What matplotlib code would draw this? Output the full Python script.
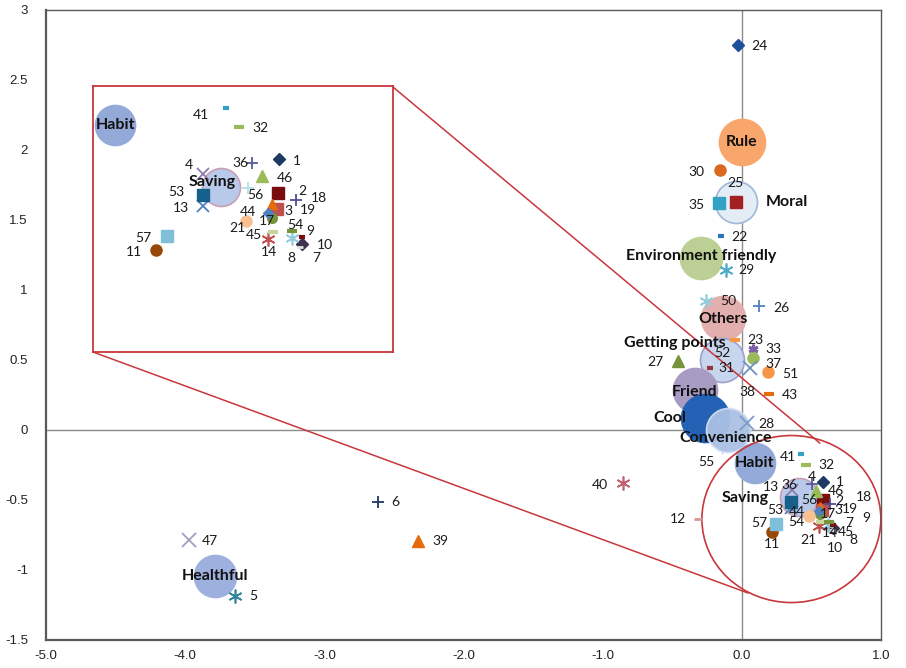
import matplotlib
matplotlib.use("Agg")
import matplotlib.pyplot as plt
from matplotlib.patches import Ellipse

# ---------------- data ----------------
point_ids = [1, 2, 3, 4, 5, 6, 7, 8, 9, 10, 11, 12, 13, 14, 17, 18, 19, 21, 22, 23,
             24, 25, 26, 27, 28, 29, 30, 31, 32, 33, 35, 36, 37, 38, 39, 40, 41, 43,
             44, 45, 46, 47, 50, 51, 52, 53, 54, 55, 56, 57]
point_x = [0.583, 0.582, 0.577, 0.357, -3.642, -2.617, 0.654, 0.622, 0.654, 0.647,
           0.216, -0.314, 0.356, 0.552, 0.562, 0.634, 0.562, 0.484, -0.153, -0.050,
           -0.031, -0.043, 0.124, -0.458, 0.038, -0.117, -0.158, -0.230, 0.464, 0.081,
           -0.165, 0.504, 0.077, 0.057, -2.325, -0.853, 0.425, 0.196,
           0.552, 0.567, 0.534, -3.971, -0.254, 0.189, -0.216, 0.356, 0.624, -0.144, 0.492, 0.248]
point_y = [-0.369, -0.503, -0.568, -0.429, -1.186, -0.516, -0.702, -0.681, -0.675, -0.713,
           -0.728, -0.638, -0.555, -0.685, -0.600, -0.532, -0.548, -0.614, 1.386, 0.643,
           2.750, 1.631, 0.886, 0.495, 0.052, 1.143, 1.857, 0.445, -0.247, 0.579,
           1.619, -0.388, 0.516, 0.441, -0.793, -0.381, -0.171, 0.255,
           -0.581, -0.657, -0.438, -0.786, 0.924, 0.412, 0.529, -0.513, -0.654, -0.143, -0.483, -0.672]

categories = ['Rule', 'Moral', 'Environment friendly', 'Others', 'Getting points', 'Friend',
              'Cool', 'Convenience', 'Habit', 'Saving', 'Healthful']
cat_x = [-0.002, -0.043, -0.290, -0.134, -0.146, -0.338, -0.266, -0.098, 0.093, 0.410, -3.786]
cat_y = [2.059, 1.631, 1.226, 0.798, 0.500, 0.286, 0.084, 0.000, -0.238, -0.482, -1.043]
cat_size = [23, 21, 21, 22, 22, 22, 24, 22, 20, 19, 21]

x_ticks = [-5.0, -4.0, -3.0, -2.0, -1.0, 0.0, 1.0]
y_ticks = [-1.5, -1, -0.5, 0, 0.5, 1, 1.5, 2, 2.5, 3]
y_tick_labels = ['-1.5', '-1', '-0.5', '0', '0.5', '1', '1.5', '2', '2.5', '3']

# ---------------- styles ----------------
AST = (6, 2, 0)
# id: (marker, color, markersize, markeredgewidth, zorder)
pstyle = {
    1: ('D', '#1F3864', 6.5, 1, 4), 2: ('s', '#7A0E0E', 8, 1, 4), 3: ('s', '#C0504D', 8, 1, 4),
    4: ('x', '#8C7BAF', 8, 1.3, 4), 5: (AST, '#31859C', 10, 1.2, 4), 6: ('+', '#1F3864', 9, 1.3, 4),
    7: ('D', '#403152', 6.5, 1, 4), 8: (AST, '#93CDDD', 10, 1.2, 4), 9: ('_', '#7A0E0E', 5, 3, 4),
    10: ('_', '#E4E4E4', 4, 2, 4), 11: ('o', '#984807', 8, 1, 4), 12: ('_', '#D99694', 6, 2, 4),
    13: ('x', '#4F81BD', 8, 1.3, 4), 14: (AST, '#C0504D', 10, 1.2, 4), 17: ('o', '#77933C', 7, 1, 4),
    18: ('+', '#4F4F8F', 9, 1.3, 4), 19: ('^', '#E46C0A', 7, 1, 4), 21: ('o', '#FAC090', 8, 1, 4),
    22: ('_', '#2E75B6', 4, 3, 4), 23: ('_', '#F79646', 7, 3, 4), 24: ('D', '#1F4E9C', 6.5, 1, 4),
    25: ('s', '#A31F22', 8, 1, 4), 26: ('+', '#4F81BD', 9, 1.3, 4), 27: ('^', '#77933C', 8, 1, 4),
    28: ('x', '#7F9CC8', 10, 1.3, 4), 29: (AST, '#4BACC6', 10, 1.2, 4), 30: ('o', '#D9691E', 8, 1, 4),
    31: ('_', '#953735', 5, 3, 4), 32: ('_', '#9BBB59', 7, 3, 4), 33: (AST, '#7F5FA7', 7, 2, 4),
    35: ('s', '#31A2C4', 8, 1, 4), 36: ('+', '#5A5A9A', 9, 1.3, 4), 37: ('o', '#9BBB59', 8, 1, 4),
    38: ('x', '#6F8FC3', 10, 1.3, 4), 39: ('^', '#E46C0A', 8, 1, 4), 40: (AST, '#C06070', 10, 1.2, 4),
    41: ('_', '#31A2C4', 4, 3, 4), 43: ('_', '#E46C0A', 7, 3, 4), 44: ('D', '#4F81BD', 5, 1, 4),
    45: ('_', '#C3D69B', 7, 3, 4), 46: ('^', '#9BBB59', 9, 1, 4), 47: ('x', '#A0A0C0', 10, 1.3, 4),
    50: (AST, '#93CDDD', 10, 1.2, 4), 51: ('o', '#F79646', 8, 1, 4), 52: ('_', '#8064A2', 4, 2, 1),
    53: ('s', '#17608C', 8, 1, 4), 54: ('_', '#77933C', 7, 3, 4), 55: ('+', '#B7C9E8', 6, 1, 1),
    56: ('+', '#B7DEE8', 9, 1.3, 4), 57: ('s', '#7FBFD9', 9, 1, 4),
}
# label offsets in pixels (dx right, dy down)
main_off = {
    1: (17, 0), 2: (17, 1), 3: (16, 0), 4: (20, -13), 5: (18, 0), 6: (18, 0), 7: (16, -5),
    8: (25, 15), 9: (33, -7), 10: (3, 18), 11: (0, 12), 12: (-20, 0), 13: (-20, -21),
    14: (11, 7), 17: (8, 0), 18: (34, -7), 19: (30, 2), 21: (-1, 24), 22: (19, 1), 23: (20, 0),
    24: (22, 1), 25: (0, -19), 26: (22, 2), 27: (-23, 1), 28: (19, 1), 29: (21, 0), 30: (-23, 2),
    31: (17, 0), 32: (20, 0), 33: (20, 0), 35: (-22, 2), 36: (-23, 1), 37: (21, 6), 38: (-2, 24),
    39: (22, 0), 40: (-23, 2), 41: (-13, 3), 43: (21, 1), 44: (-22, 1), 45: (25, 10), 46: (20, 0),
    47: (21, 1), 50: (22, 0), 51: (22, 2), 52: (11, -3), 53: (-16, 8), 54: (-32, 0), 55: (-15, 12),
    56: (-1, 2), 57: (-17, -1),
}
inset_off = {
    1: (18, 2), 2: (24, -2), 3: (12, 2), 4: (-14, -9), 7: (14, 14), 8: (0, 20), 9: (8, -6),
    10: (25, -2), 11: (-22, 2), 13: (-22, 2), 14: (1, 13), 17: (-5, 3), 18: (23, -2), 19: (36, 6),
    21: (-8, 7), 32: (22, 1), 36: (-12, 0), 41: (-25, 7), 44: (-20, -1), 45: (-19, 3), 46: (23, 2),
    53: (-27, -3), 54: (3, -6), 56: (7, 7), 57: (-23, 2),
}
cstyle = {
    'Rule': ('#F9A66C', '#F9A66C', 1.0), 'Moral': ('#E4ECF6', '#9FB7D8', 1.0),
    'Environment friendly': ('#BCD096', '#BCD096', 1.0), 'Others': ('#E3AFAE', '#E3AFAE', 1.0),
    'Getting points': ('#C8D5EE', '#9BA3CC', 1.0), 'Friend': ('#A99CC4', '#A99CC4', 1.0),
    'Cool': ('#2462B5', '#2462B5', 1.0), 'Convenience': ('#ABC0E4', '#D2DEF1', 0.95),
    'Habit': ('#93A9D8', '#93A9D8', 1.0), 'Saving': ('#B9C9EA', '#C8A0B5', 1.0),
    'Healthful': ('#9DB0DE', '#9DB0DE', 1.0),
}
cat_off = {'Rule': (0, 0), 'Moral': (51, 0), 'Environment friendly': (0, -2), 'Others': (0, 1),
           'Getting points': (-47, -17), 'Friend': (0, 2), 'Cool': (-35, 0),
           'Convenience': (-3, 8), 'Habit': (0, 0), 'Saving': (-54, 1), 'Healthful': (0, 0)}
cat_off_inset = {'Habit': (0, 0), 'Saving': (-9, -5)}

RED = '#C8373C'
NUMFONT = 'Lato'
fig = plt.figure(figsize=(9.06, 6.68), dpi=100)
W, H = 906, 668
ax = fig.add_axes([46 / W, 28 / H, 835 / W, 630 / H])
ax.set_xlim(-5, 1)
ax.set_ylim(-1.5, 3)
ax.axhline(0, color='#8C8C8C', lw=1.0, zorder=0.5)
ax.axvline(0, color='#8C8C8C', lw=1.0, zorder=0.5)
for s in ax.spines.values():
    s.set_color('#5A5A5A')
    s.set_linewidth(1.0)
ax.spines['left'].set_linewidth(1.6)
ax.spines['bottom'].set_linewidth(1.6)
ax.set_xticks(x_ticks)
ax.set_xticklabels([f'{v:.1f}' for v in x_ticks])
ax.set_yticks(y_ticks)
ax.set_yticklabels(y_tick_labels)
ax.tick_params(length=0, labelsize=9.5, colors='#222222')
ax.tick_params(axis='y', pad=13)
ax.tick_params(axis='x', pad=7)
for lab in ax.get_xticklabels() + ax.get_yticklabels():
    lab.set_family(['Liberation Sans Narrow', 'Liberation Sans'])


def draw(axis, offsets, cat_offsets, limits=None):
    def inside(x, y):
        if limits is None:
            return True
        (x0, x1), (y0, y1) = limits
        return x0 <= x <= x1 and y0 <= y <= y1

    for name, x, y, r in zip(categories, cat_x, cat_y, cat_size):
        fc, ec, a = cstyle[name]
        axis.scatter([x], [y], s=(2 * r * 0.72) ** 2, c=fc, edgecolors=ec, linewidths=1.2,
                     alpha=a, zorder=2)
        if name in cat_offsets and inside(x, y):
            dx, dy = cat_offsets[name]
            axis.annotate(name, (x, y), xytext=(dx, -dy), textcoords='offset pixels',
                          ha='center', va='center', fontsize=11.5, fontweight='bold',
                          family=NUMFONT, color='#111111', zorder=6)
    for pid, x, y in zip(point_ids, point_x, point_y):
        m, c, ms, mew, z = pstyle[pid]
        axis.plot([x], [y], ls='none', marker=m, color=c, ms=ms, mew=mew, zorder=z)
        if pid in offsets and inside(x, y):
            dx, dy = offsets[pid]
            axis.annotate(str(pid), (x, y), xytext=(dx, -dy), textcoords='offset pixels',
                          ha='center', va='center', fontsize=10, family=NUMFONT,
                          color='#1A1A1A', zorder=5)


draw(ax, main_off, cat_off)

# highlight ellipse and connector lines
ax.add_patch(Ellipse((0.356, -0.636), 1.286, 1.193, fill=False, ec=RED, lw=1.2, zorder=3.5))
ax.plot([-2.507, 0.560], [2.45, -0.093], color=RED, lw=1.1, zorder=3.5, clip_on=False)
ax.plot([-4.662, 0.043], [0.557, -1.164], color=RED, lw=1.1, zorder=3.5, clip_on=False)

# inset (zoom of the circled region)
axin = fig.add_axes([93 / W, (H - 352) / H, 300 / W, 266 / H])
xl, yl = (0.0271, 0.9253), (-1.1248, -0.0857)
axin.set_xlim(*xl)
axin.set_ylim(*yl)
axin.set_xticks([])
axin.set_yticks([])
axin.set_facecolor('white')
for s in axin.spines.values():
    s.set_color(RED)
    s.set_linewidth(1.3)
draw(axin, inset_off, cat_off_inset, limits=(xl, yl))

fig.savefig('out.png', dpi=100, facecolor='white')
